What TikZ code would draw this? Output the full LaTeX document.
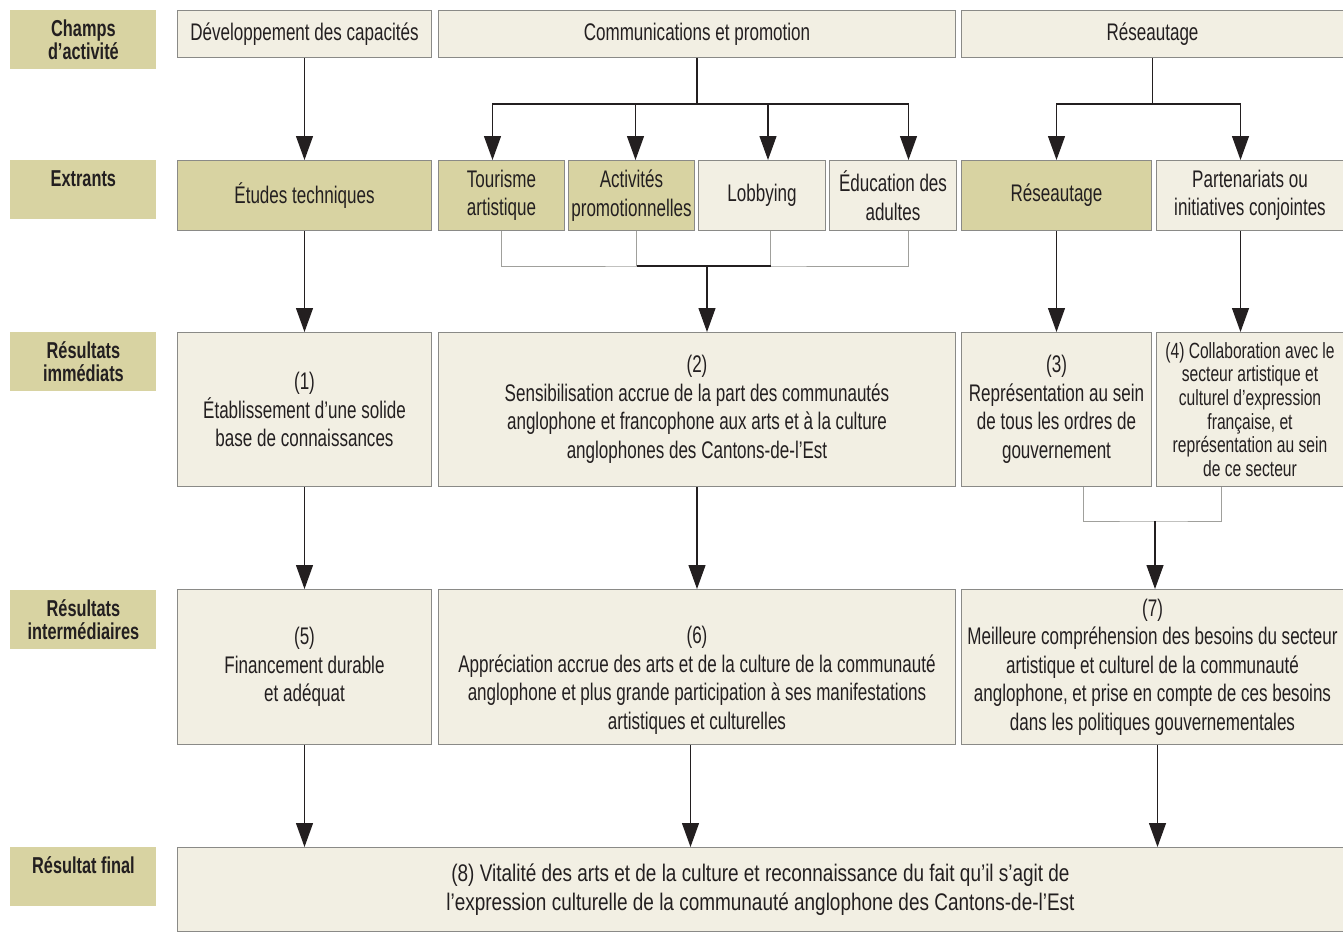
\documentclass[tikz,border=0pt]{standalone}
\usepackage{fontspec}
\setmainfont{Liberation Sans}[FakeStretch=0.71]
\newfontfamily\widefam{Liberation Sans}[FakeStretch=0.79]
\usepackage{tikz}
\usetikzlibrary{arrows.meta}
\usetikzlibrary{positioning}

\definecolor{tan}{HTML}{D8D3A2}
\definecolor{paper}{HTML}{F2EFE3}
\definecolor{boxline}{HTML}{8A8A87}
\definecolor{joinline}{HTML}{A0A09C}
\definecolor{ink}{HTML}{231F20}

\begin{document}
\begin{tikzpicture}[
        x=0.5pt, y=-0.5pt,
        every node/.append style={text=ink, align=center, inner sep=0.5pt},
        rowlabel/.style={fill=tan, minimum width=73pt, minimum height=29.5pt, anchor=north west,
            font=\bfseries\fontsize{11.5}{11.5}\selectfont},
        lightbox/.style={draw=boxline, line width=0.5pt, fill=paper, anchor=north west,
            font=\fontsize{12}{14.25}\selectfont},
        darkbox/.style={lightbox, fill=tan},
        flow/.style={draw=ink, line width=0.6pt, -{Triangle[width=8.5pt,length=12pt]}},
        mergeline/.style={draw=joinline, line width=0.5pt},
        wire/.style={draw=ink, line width=0.6pt}
    ]
        \useasboundingbox (0,0) rectangle (1343,932);

        % row labels
        \node (champs) [rowlabel] at (10,10) {Champs\\d’activité};
        \node (extr) [rowlabel] at (10,160) {Extrants\\~};
        \node (immed) [rowlabel] at (10,332) {Résultats\\immédiats};
        \node (inter) [rowlabel] at (10,590) {Résultats\\intermédiaires};
        \node (final) [rowlabel] at (10,847) {Résultat final\\~};

        % champs d'activite
        \node (dev) [lightbox, minimum width=127pt, minimum height=23.5pt] at (177,10) {Développement des capacités};
        \node (comm) [lightbox, minimum width=258.5pt, minimum height=23.5pt, right=3pt of dev] {Communications et promotion};
        \node (resa) [lightbox, minimum width=191pt, minimum height=23.5pt, right=2.5pt of comm] {Réseautage};

        % extrants
        \node (etud) [darkbox, minimum width=127pt, minimum height=35pt] at (177,160) {Études techniques};
        \node (tour) [darkbox, minimum width=63pt, minimum height=35pt, right=3pt of etud] {Tourisme\\artistique};
        \node (acti) [darkbox, minimum width=63pt, minimum height=35pt, right=1.5pt of tour] {Activités\\promotionnelles};
        \node (lobb) [lightbox, minimum width=63.5pt, minimum height=35pt, right=1.5pt of acti] {Lobbying};
        \node (educ) [lightbox, minimum width=63.5pt, minimum height=35pt, right=1.5pt of lobb] {Éducation des\\adultes};
        \node (resb) [darkbox, minimum width=95pt, minimum height=35pt, right=2pt of educ] {Réseautage};
        \node (part) [lightbox, minimum width=93.5pt, minimum height=35pt, right=2pt of resb] {Partenariats ou\\initiatives conjointes};

        % resultats immediats
        \node (r1) [lightbox, minimum width=127pt, minimum height=77pt] at (177,332) {(1)\\Établissement d’une solide\\base de connaissances};
        \node (r2) [lightbox, minimum width=258.5pt, minimum height=77pt, right=3pt of r1] {(2)\\Sensibilisation accrue de la part des communautés\\anglophone et francophone aux arts et à la culture\\anglophones des Cantons-de-l’Est};
        \node (r3) [lightbox, minimum width=95pt, minimum height=77pt, right=2.5pt of r2] {(3)\\Représentation au sein\\de tous les ordres de\\gouvernement};
        \node (r4) [lightbox, minimum width=93.5pt, minimum height=77pt, right=2pt of r3, font=\fontsize{11}{11.8}\selectfont] {(4) Collaboration avec le\\secteur artistique et\\culturel d’expression\\française, et\\représentation au sein\\de ce secteur};

        % resultats intermediaires
        \node (r5) [lightbox, minimum width=127pt, minimum height=77.5pt] at (177,589) {(5)\\Financement durable\\et adéquat};
        \node (r6) [lightbox, minimum width=258.5pt, minimum height=77.5pt, right=3pt of r5] {\rule{0pt}{22pt}(6)\\Appréciation accrue des arts et de la culture de la communauté\\anglophone et plus grande participation à ses manifestations\\artistiques et culturelles};
        \node (r7) [lightbox, minimum width=191pt, minimum height=77.5pt, right=2.5pt of r6] {(7)\\Meilleure compréhension des besoins du secteur\\artistique et culturel de la communauté\\anglophone, et prise en compte de ces besoins\\dans les politiques gouvernementales};

        % resultat final
        \node (fin) [lightbox, minimum width=583pt, minimum height=42pt, font=\widefam\fontsize{12}{14.25}\selectfont] at (177,847) {(8) Vitalité des arts et de la culture et reconnaissance du fait qu’il s’agit de\\l’expression culturelle de la communauté anglophone des Cantons-de-l’Est};

        % arrows between rows
        \draw[flow] (dev) -- (etud);
        \draw[flow] (comm.south) -- ++(0,46) coordinate (fanC) -| ([xshift=-4.5pt]tour.north);
        \draw[flow] (fanC) -| ([xshift=2pt]acti.north);
        \draw[flow] (fanC) -| ([xshift=3pt]lobb.north);
        \draw[flow] (fanC) -| ([xshift=7.75pt]educ.north);
        \draw[flow] (resa.south) -- ++(0,46) coordinate (fanR) -| (resb);
        \draw[flow] (fanR) -| ([xshift=-4.75pt]part.north);

        \coordinate (hubC) at (707,266);
        \draw[mergeline] (tour.south) |- (hubC) -| ([xshift=7.75pt]educ.south);
        \draw[mergeline] ([xshift=2.5pt]acti.south) -- ([xshift=2.5pt]acti.south |- hubC);
        \draw[mergeline] ([xshift=4.25pt]lobb.south) -- ([xshift=4.25pt]lobb.south |- hubC);
        \draw[wire] ([xshift=2.5pt]acti.south |- hubC) -- ([xshift=4.25pt]lobb.south |- hubC);
        \draw[flow] (etud) -- (r1);
        \draw[flow] (hubC) -- (hubC |- r2.north);
        \draw[flow] (resb.south) -- (resb.south |- r3.north);
        \draw[flow] ([xshift=-4.75pt]part.south) -- ([xshift=-4.75pt]part.south |- r4.north);

        \coordinate (hubR) at (1155,521);
        \draw[mergeline] ([xshift=13.5pt]r3.south) |- (hubR) -| ([xshift=-14.25pt]r4.south);
        \draw[flow] (r1) -- (r5);
        \draw[flow] (r2) -- (r6);
        \draw[flow] (hubR) -- (hubR |- r7.north);

        \draw[flow] (r5.south) -- (r5.south |- fin.north);
        \draw[flow] ([xshift=-3.25pt]r6.south) -- ([xshift=-3.25pt]r6.south |- fin.north);
        \draw[flow] ([xshift=2.5pt]r7.south) -- ([xshift=2.5pt]r7.south |- fin.north);
    \end{tikzpicture}
\end{document}
